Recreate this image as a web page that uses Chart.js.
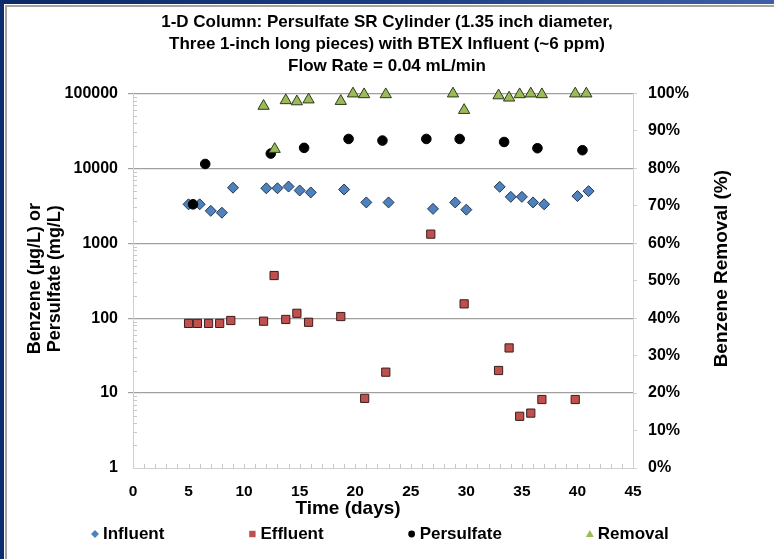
<!DOCTYPE html>
<html>
<head>
<meta charset="utf-8">
<script src="https://cdn.jsdelivr.net/npm/chart.js@4.4.0/dist/chart.umd.min.js"></script>
<style>
  html, body { margin: 0; padding: 0; background: #fff; }
  #wrap { position: relative; width: 774px; height: 559px; overflow: hidden; }
  .bar-top { position: absolute; left: 0; top: 0; width: 774px; height: 4px; background: linear-gradient(to right, #0b2966, #1b3c82 50%, #3e5fa8); }
  .bar-left { position: absolute; left: 0; top: 0; width: 4px; height: 559px; background: #0c2d6e; }
  .edge { position: absolute; left: 5px; top: 5px; right: 0; bottom: 0; border-left: 2px solid #a3a3a3; border-top: 2px solid #a3a3a3; }
  canvas { position: absolute; left: 0; top: 0; }
</style>
</head>
<body>
<div id="wrap">
  <div class="bar-top"></div>
  <div class="bar-left"></div>
  <div class="edge"></div>
  <canvas id="chart" width="774" height="559"></canvas>
</div>
<script>
// --- DATA ---
const titleLines = [
  '1-D Column: Persulfate SR Cylinder (1.35 inch diameter,',
  'Three 1-inch long pieces) with BTEX Influent (~6 ppm)',
  'Flow Rate = 0.04 mL/min'
];

const influentDays = [5, 6, 7, 8, 9, 12, 13, 14, 15, 16, 19, 21, 23, 27, 29, 30, 33, 34, 35, 36, 37, 40, 41];
const influent = [3300, 3300, 2700, 2550, 5500, 5400, 5400, 5700, 5050, 4750, 5200, 3500,
  3500, 2870, 3500, 2800, 5650, 4150, 4150, 3500, 3300, 4250, 4950];

const effluentDays = [5, 5.8, 6.8, 7.8, 8.8, 11.75, 12.7, 13.75, 14.75, 15.8, 18.7, 20.85,
  22.75, 26.8, 29.8, 32.9, 33.85, 34.8, 35.8, 36.8, 39.8];
const effluent = [85, 85, 85, 85, 93, 91, 370, 96, 116, 88, 105, 8.5,
  19, 1320, 155, 20, 40, 4.9, 5.4, 8.2, 8.2];

const persulfateDays = [5.4, 6.5, 12.4, 15.4, 19.4, 22.45, 26.4, 29.4, 33.4, 36.4, 40.45];
const persulfate = [3300, 11400, 15700, 18700, 24600, 23400, 24600, 24600, 22400, 18500, 17400];

const removalDays = [11.75, 12.75, 13.75, 14.75, 15.8, 18.7, 19.8, 20.8, 22.75, 28.8, 29.8,
  32.9, 33.85, 34.8, 35.8, 36.8, 39.8, 40.8];
const removal = [96.6, 85.1, 98.1, 97.8, 98.3, 97.9, 99.9, 99.7, 99.7, 99.9, 95.5,
  99.4, 98.8, 99.7, 99.9, 99.7, 99.9, 99.9];

const xTitle = 'Time (days)';
const yTitle = ['Benzene (\u00b5g/L) or', 'Persulfate (mg/L)'];
const y2Title = 'Benzene Removal (%)';

// --- HELPERS ---
const FONT = "'Liberation Sans', Arial, sans-serif";
Chart.defaults.font.family = FONT;
Chart.defaults.color = '#000';

function pts(xs, ys) { return xs.map((x, i) => ({ x: x, y: ys[i] })); }
function isDecade(v) { const l = Math.log10(v); return Math.abs(l - Math.round(l)) < 1e-9; }

function drawMarker(ctx, style, x, y, r, color) {
  ctx.fillStyle = color;
  ctx.beginPath();
  if (style === 'rectRot') {
    ctx.moveTo(x, y - r); ctx.lineTo(x + r, y); ctx.lineTo(x, y + r); ctx.lineTo(x - r, y);
  } else if (style === 'rect') {
    ctx.rect(x - r * 0.8, y - r * 0.8, r * 1.6, r * 1.6);
  } else if (style === 'circle') {
    ctx.arc(x, y, r * 0.85, 0, Math.PI * 2);
  } else {
    ctx.moveTo(x, y - r); ctx.lineTo(x + r, y + r * 0.75); ctx.lineTo(x - r, y + r * 0.75);
  }
  ctx.closePath();
  ctx.fill();
}

// minor ticks, axis titles and the legend row
const decor = {
  id: 'decor',
  beforeDatasetsDraw(chart) {
    const { ctx, chartArea: a, scales } = chart;
    ctx.save();
    ctx.strokeStyle = '#c8c8c8';
    ctx.lineWidth = 1;
    ctx.beginPath();
    for (let d = 1; d < 45; d++) {
      const x = Math.round(scales.x.getPixelForValue(d)) + 0.5;
      ctx.moveTo(x, a.bottom); ctx.lineTo(x, a.bottom - 4);
    }
    for (let e = 0; e < 5; e++) {
      for (let m = 2; m <= 9; m++) {
        const y = Math.round(scales.y.getPixelForValue(m * Math.pow(10, e))) + 0.5;
        ctx.moveTo(a.left, y); ctx.lineTo(a.left + 4, y);
      }
    }
    ctx.stroke();
    ctx.restore();
  },
  afterDraw(chart) {
    const { ctx, chartArea: a } = chart;
    const midY = (a.top + a.bottom) / 2;
    ctx.save();
    ctx.fillStyle = '#000';
    ctx.textAlign = 'center';
    ctx.textBaseline = 'middle';

    // x title
    ctx.font = 'bold 19px ' + FONT;
    ctx.fillText(xTitle, a.left + 215, a.bottom + 41);

    // left title, two lines
    ctx.font = 'bold 18px ' + FONT;
    yTitle.forEach((t, i) => {
      ctx.save();
      ctx.translate(35 + i * 20, midY - 2);
      ctx.rotate(-Math.PI / 2);
      ctx.fillText(t, 0, 0);
      ctx.restore();
    });

    // right title
    ctx.font = 'bold 19px ' + FONT;
    ctx.save();
    ctx.translate(a.right + 89, midY - 12);
    ctx.rotate(-Math.PI / 2);
    ctx.fillText(y2Title, 0, 0);
    ctx.restore();

    // legend, in dataset order
    ctx.font = 'bold 17px ' + FONT;
    ctx.textAlign = 'left';
    let x = 95;
    const ly = a.bottom + 66;
    const items = chart.data.datasets.slice().sort((p, q) => q.order - p.order);
    items.forEach(ds => {
      drawMarker(ctx, ds.pointStyle, x, ly, 4, ds.backgroundColor);
      ctx.fillStyle = '#000';
      ctx.fillText(ds.label, x + 8, ly);
      x += 8 + ctx.measureText(ds.label).width + 88;
    });
    ctx.restore();
  }
};

// --- CHART ---
const tickFont = { size: 16, weight: 'bold' };

new Chart(document.getElementById('chart').getContext('2d'), {
  type: 'scatter',
  data: {
    datasets: [
      {
        label: 'Influent', data: pts(influentDays, influent), yAxisID: 'y', order: 4,
        pointStyle: 'rectRot', pointRadius: 5.5, backgroundColor: '#4f81bd',
        borderColor: '#23364f', borderWidth: 1, clip: false
      },
      {
        label: 'Effluent', data: pts(effluentDays, effluent), yAxisID: 'y', order: 3,
        pointStyle: 'rect', pointRadius: 5.8, backgroundColor: '#c0504d',
        borderColor: '#3a1d1c', borderWidth: 1, clip: false
      },
      {
        label: 'Persulfate', data: pts(persulfateDays, persulfate), yAxisID: 'y', order: 2,
        pointStyle: 'circle', pointRadius: 4.8, backgroundColor: '#000',
        borderColor: '#000', borderWidth: 1, clip: false
      },
      {
        label: 'Removal', data: pts(removalDays, removal), yAxisID: 'y2', order: 1,
        pointStyle: 'triangle', pointRadius: 6.5, backgroundColor: '#9bbb59',
        borderColor: '#2d3a1a', borderWidth: 1, clip: false
      }
    ]
  },
  options: {
    responsive: false,
    animation: false,
    layout: { padding: 0 },
    plugins: {
      legend: { display: false },
      tooltip: { enabled: false },
      title: {
        display: true,
        text: titleLines,
        color: '#000',
        font: { size: 17, weight: 'bold', lineHeight: 1.3 },
        padding: { top: 11, bottom: 16 }
      }
    },
    scales: {
      x: {
        type: 'linear', min: 0, max: 45,
        ticks: { stepSize: 5, font: { size: 15.5, weight: 'bold' }, padding: 14, maxRotation: 0 },
        grid: { display: false, drawTicks: false },
        border: { color: '#d0d0d0' },
        afterFit: s => { s.height = 91; }
      },
      y: {
        type: 'logarithmic', position: 'left', min: 1, max: 100000,
        ticks: {
          autoSkip: false, font: tickFont, padding: 10,
          callback: v => isDecade(v) ? String(Math.round(v)) : ''
        },
        grid: {
          tickLength: 5, lineWidth: 1.2,
          color: c => (c.tick && isDecade(c.tick.value) && c.tick.value > 1) ? '#a0a0a0' : 'rgba(0,0,0,0)'
        },
        border: { color: '#d0d0d0' },
        afterFit: s => { s.width = 133; }
      },
      y2: {
        type: 'linear', position: 'right', min: 0, max: 100,
        ticks: { stepSize: 10, font: tickFont, padding: 11, callback: v => v + '%' },
        grid: { drawOnChartArea: false, tickLength: 4, color: '#d0d0d0' },
        border: { color: '#d0d0d0' },
        afterFit: s => { s.width = 141; }
      }
    }
  },
  plugins: [decor]
});
</script>
</body>
</html>
